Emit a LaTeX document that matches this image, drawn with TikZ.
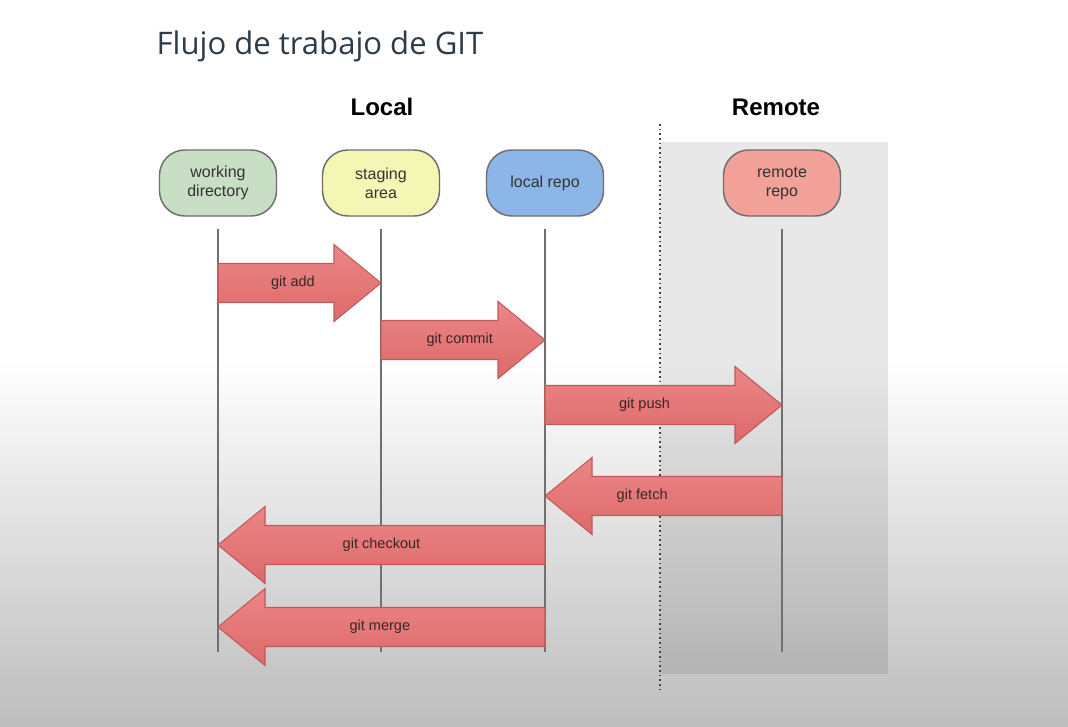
\documentclass[tikz,border=0pt]{standalone}
\usepackage{fontspec}
\setmainfont{Liberation Sans}
\newfontfamily\titlefont{Open Sans}
\usetikzlibrary{calc}
\definecolor{titlecol}{HTML}{2D3B4A}
\definecolor{bggray}{HTML}{BDBDBD}
\definecolor{dotcol}{HTML}{444444}
\definecolor{boxborder}{HTML}{6E6E6E}
\definecolor{lifegray}{HTML}{707070}
\definecolor{wdfill}{HTML}{C9DFC5}
\definecolor{safill}{HTML}{F4F6B4}
\definecolor{lrfill}{HTML}{8DB6E8}
\definecolor{rrfill}{HTML}{F1A198}
\definecolor{arrtop}{HTML}{EC8686}
\definecolor{arrbot}{HTML}{DD6A6A}
\definecolor{arrborder}{HTML}{C05A5A}
\definecolor{labeltext}{HTML}{3A2626}
\newcommand\gitarrow[5]{% #1 start, #2 end, #3 direction (1 right, -1 left), #4 label pos, #5 label
  \draw[gitarr] ($(#1)+(0,-19.5)$) -- ($(#2)+({-47*#3},-19.5)$) -- ($(#2)+({-47*#3},-38.5)$)
    -- (#2) -- ($(#2)+({-47*#3},38.5)$) -- ($(#2)+({-47*#3},19.5)$) -- ($(#1)+(0,19.5)$) -- cycle;
  \path (#1) -- (#2) node[arrlabel, pos=#4] {#5};}
\begin{document}
\begin{tikzpicture}[x=0.75pt,y=-0.75pt,
  box/.style={draw=boxborder, line width=1.1pt, rounded corners=19pt, minimum width=87.75pt,
    minimum height=49.5pt, align=center, font=\fontsize{12}{14.25}\selectfont, text=black!80, inner sep=0pt},
  life/.style={draw=lifegray, line width=1.1pt},
  gitarr/.style={draw=arrborder, line width=0.8pt, top color=arrtop, bottom color=arrbot, line join=miter},
  arrlabel/.style={font=\fontsize{10.9}{12}\selectfont, text=labeltext},
  head/.style={font=\bfseries\fontsize{18}{20}\selectfont, anchor=base}]
\useasboundingbox (0,0) rectangle (1068,726);
\fill[white] (0,0) rectangle (1068,361);
\shade[top color=white, bottom color=bggray] (0,360) rectangle (1068,726);
\fill[black, opacity=0.09] (660,142) rectangle (888,674);
\draw[dotcol, line width=1.3pt, dash pattern=on 1.3pt off 2.2pt] (660,124) -- (660,693);

\node[anchor=base west, font=\titlefont\fontsize{23.3}{28}\selectfont, text=titlecol] (title) at (152,54) {Flujo de trabajo de GIT};
\node[head] (local) at (382,115) {Local};
\node[head] (remote) at (776,115) {Remote};

\node[box, fill=wdfill] (wd) at (218,183) {working\\directory};
\node[box, fill=safill] (sa) at (381,183) {staging\\area};
\node[box, fill=lrfill] (lr) at (545,183) {local repo};
\node[box, fill=rrfill] (rr) at (782,183) {remote\\repo};

\foreach \n in {wd,sa,lr,rr}{
  \coordinate (\n end) at (\n |- 0,652);
  \draw[life] ($(\n.south)+(0,12)$) -- (\n end);
}

\coordinate (addS) at (wd |- 0,283);  \coordinate (addE) at (sa |- 0,283);
\coordinate (comS) at (sa |- 0,340);  \coordinate (comE) at (lr |- 0,340);
\coordinate (pusS) at (lr |- 0,405);  \coordinate (pusE) at (rr |- 0,405);
\coordinate (fetS) at (rr |- 0,496);  \coordinate (fetE) at (lr |- 0,496);
\coordinate (cheS) at (lr |- 0,545);  \coordinate (cheE) at (wd |- 0,545);
\coordinate (merS) at (lr |- 0,627);  \coordinate (merE) at (wd |- 0,627);

\gitarrow{addS}{addE}{1}{0.46}{git add}
\gitarrow{comS}{comE}{1}{0.48}{git commit}
\gitarrow{pusS}{pusE}{1}{0.42}{git push}
\gitarrow{fetS}{fetE}{-1}{0.59}{git fetch}
\gitarrow{cheS}{cheE}{-1}{0.50}{git checkout}
\gitarrow{merS}{merE}{-1}{0.505}{git merge}
\end{tikzpicture}
\end{document}
